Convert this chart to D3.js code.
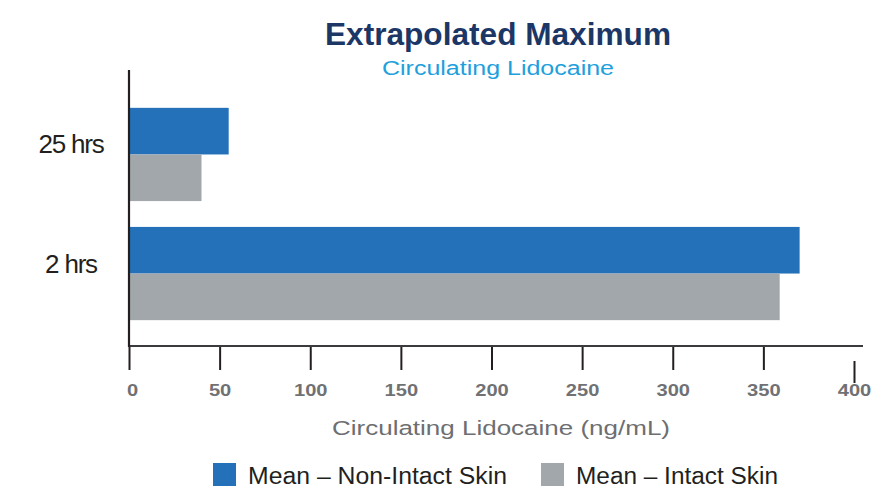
<!DOCTYPE html>
<html>
<head>
<meta charset="utf-8">
<script src="https://cdn.jsdelivr.net/npm/d3@7"></script>
<style>
  html, body { margin: 0; padding: 0; background: #fff; }
  svg { display: block; font-family: "Liberation Sans", Arial, Helvetica, sans-serif; }
</style>
</head>
<body>
<svg id="chart" width="896" height="488"></svg>
<script>
// Extrapolated maximum circulating lidocaine, by time point
const categories = ["25 hrs", "2 hrs"];
const seriesNames = ["Mean – Non-Intact Skin", "Mean – Intact Skin"];
const nonIntactValues = [55, 370];
const intactValues = [40, 359];
const xTickValues = [0, 50, 100, 150, 200, 250, 300, 350, 400];

const colors = ["#2470b9", "#a1a7aa"];
const svg = d3.select("#chart");

const x = d3.scaleLinear().domain([0, 400]).range([129, 854]);
const y = d3.scaleBand().domain(categories).range([82, 346])
  .paddingInner(0.217).paddingOuter(0.217);
const ySub = d3.scaleBand().domain(seriesNames).range([0, y.bandwidth()]);

const rows = categories.map((c, i) => ({
  category: c,
  values: [nonIntactValues[i], intactValues[i]]
}));

// Fit a text element to a measured width
function fit(sel, w) {
  sel.attr("textLength", w).attr("lengthAdjust", "spacingAndGlyphs");
}

// Titles
svg.append("text").attr("x", 498).attr("y", 44.5)
  .attr("text-anchor", "middle").attr("font-size", 31).attr("font-weight", 700)
  .attr("fill", "#1c3766").text("Extrapolated Maximum").call(fit, 346);
svg.append("text").attr("x", 498).attr("y", 74.5)
  .attr("text-anchor", "middle").attr("font-size", 20)
  .attr("fill", "#1ea0dc").text("Circulating Lidocaine").call(fit, 232);

// Bars
const groups = svg.append("g").selectAll("g").data(rows).join("g")
  .attr("transform", d => `translate(0,${y(d.category)})`);
groups.selectAll("rect")
  .data(d => d.values.map((v, j) => ({ series: seriesNames[j], value: v, j })))
  .join("rect")
  .attr("x", x(0))
  .attr("y", d => ySub(d.series))
  .attr("width", d => x(d.value) - x(0))
  .attr("height", ySub.bandwidth())
  .attr("fill", d => colors[d.j]);

// Category labels
svg.append("g").selectAll("text").data(categories).join("text")
  .attr("x", 71)
  .attr("y", d => y(d) + y.bandwidth() / 2 - 1)
  .attr("text-anchor", "middle")
  .attr("font-size", 26)
  .attr("letter-spacing", -1.2)
  .attr("fill", "#231f20")
  .text(d => d);

// X axis
const xAxis = d3.axisBottom(x).tickValues(xTickValues)
  .tickSize(24).tickSizeOuter(0).tickPadding(14).tickFormat(d3.format("d"));
const gx = svg.append("g").attr("transform", "translate(0,346)").call(xAxis);
gx.select(".domain").remove();
gx.selectAll(".tick line").attr("stroke", "#231f20").attr("stroke-width", 2);
gx.selectAll(".tick text")
  .attr("font-size", 16.5).attr("font-weight", 700).attr("fill", "#707174")
  .attr("font-family", "'Liberation Sans', Arial, sans-serif")
  .attr("transform", "scale(1.22,1)");
gx.selectAll(".tick").filter(d => d === 0).select("text").attr("x", 2.5);
// the last tick sits lower than the others
gx.selectAll(".tick").filter(d => d === 400).select("line")
  .attr("y1", 15).attr("y2", 37);

// Axis lines
svg.append("line").attr("x1", x(0) - 1).attr("x2", x(400) + 9)
  .attr("y1", 346).attr("y2", 346)
  .attr("stroke", "#3b3a3c").attr("stroke-width", 2);
svg.append("line").attr("x1", x(0)).attr("x2", x(0))
  .attr("y1", 70).attr("y2", 347)
  .attr("stroke", "#231f20").attr("stroke-width", 2.2);

// X axis title
svg.append("text").attr("x", 501).attr("y", 435)
  .attr("text-anchor", "middle").attr("font-size", 20.5)
  .attr("fill", "#6d6e71").text("Circulating Lidocaine (ng/mL)").call(fit, 338);

// Legend
const legendX = [213, 541];
const legendW = [259, 202];
const lg = svg.append("g").selectAll("g").data(seriesNames).join("g")
  .attr("transform", (d, i) => `translate(${legendX[i]},463)`);
lg.append("rect").attr("width", 23).attr("height", 23)
  .attr("fill", (d, i) => colors[i]);
lg.append("text").attr("x", 35).attr("y", 21)
  .attr("font-size", 23).attr("fill", "#231f20")
  .text(d => d)
  .each(function (d, i) { d3.select(this).call(fit, legendW[i]); });
</script>
</body>
</html>
